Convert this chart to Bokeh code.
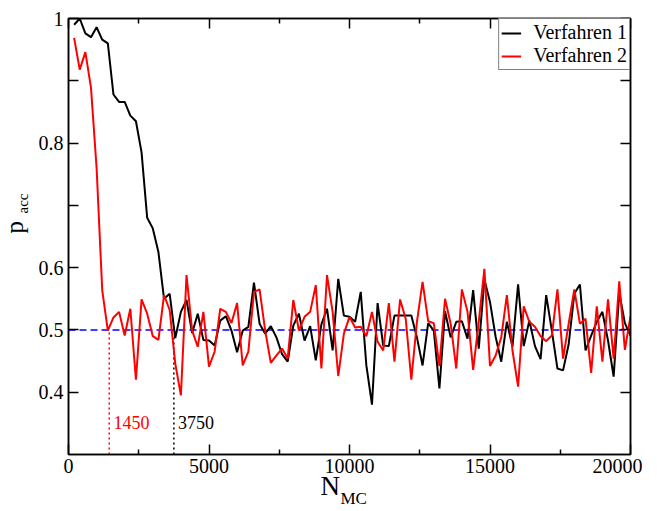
from bokeh.plotting import figure
from bokeh.models import Range1d, FixedTicker, LinearAxis, Label, Legend, LegendItem, Title
from bokeh.embed import file_html
from bokeh.resources import INLINE

# ---------------- data ----------------
n_mc = list(range(200, 20001, 200))

verfahren_1 = [
    0.99, 1.0, 0.976, 0.97, 0.986, 0.966, 0.96, 0.878, 0.866, 0.866,
    0.844, 0.835, 0.785, 0.68, 0.663, 0.625, 0.55, 0.558, 0.487, 0.529,
    0.548, 0.495, 0.526, 0.484, 0.483, 0.475, 0.515, 0.522, 0.499, 0.464,
    0.499, 0.505, 0.576, 0.51, 0.494, 0.506, 0.488, 0.461, 0.449, 0.507,
    0.526, 0.483, 0.506, 0.451, 0.509, 0.534, 0.467, 0.582, 0.523, 0.521,
    0.513, 0.561, 0.443, 0.38, 0.543, 0.475, 0.474, 0.523, 0.523, 0.523,
    0.523, 0.488, 0.443, 0.511, 0.499, 0.406, 0.530, 0.488, 0.513, 0.514,
    0.486, 0.564, 0.47, 0.581, 0.545, 0.489, 0.449, 0.513, 0.473, 0.573,
    0.474, 0.515, 0.474, 0.453, 0.556, 0.499, 0.438, 0.435, 0.477, 0.558,
    0.573, 0.467, 0.491, 0.513, 0.529, 0.483, 0.425, 0.56, 0.511, 0.491,
]

verfahren_2 = [
    0.969, 0.918, 0.946, 0.889, 0.76, 0.564, 0.499, 0.52, 0.529, 0.491,
    0.534, 0.42, 0.549, 0.526, 0.49, 0.484, 0.556, 0.532, 0.446, 0.395,
    0.588, 0.499, 0.473, 0.529, 0.441, 0.465, 0.534, 0.529, 0.511, 0.543,
    0.443, 0.465, 0.561, 0.565, 0.499, 0.447, 0.459, 0.47, 0.454, 0.548,
    0.499, 0.521, 0.529, 0.572, 0.438, 0.588, 0.529, 0.426, 0.494, 0.521,
    0.504, 0.505, 0.49, 0.529, 0.481, 0.467, 0.543, 0.449, 0.549, 0.518,
    0.42, 0.513, 0.577, 0.514, 0.511, 0.442, 0.55, 0.51, 0.438, 0.565,
    0.529, 0.436, 0.513, 0.598, 0.442, 0.459, 0.488, 0.556, 0.467, 0.409,
    0.538, 0.513, 0.505, 0.49, 0.482, 0.491, 0.565, 0.454, 0.51, 0.565,
    0.51, 0.518, 0.431, 0.538, 0.449, 0.549, 0.454, 0.578, 0.468, 0.522,
]

series_names = ["Verfahren 1", "Verfahren 2"]
series_colors = ["black", "red"]

target_rate = 0.5
thresholds = [1450, 3750]
threshold_tops = [0.5, 0.49]
threshold_colors = ["red", "black"]

x_ticks = [0, 5000, 10000, 15000, 20000]
x_minor_ticks = [2500, 7500, 12500, 17500]
y_ticks = [0.4, 0.5, 0.6, 0.8, 1.0]
y_minor_ticks = [0.7, 0.9]
y_tick_labels = {0.4: "0.4", 0.5: "0.5", 0.6: "0.6", 0.8: "0.8", 1.0: "1"}

X_MIN, X_MAX = 0, 20000
Y_MIN, Y_MAX = 0.3, 1.0

FONT = "Liberation Serif"

# ---------------- figure ----------------
p = figure(
    frame_width=562, frame_height=436,
    x_range=Range1d(X_MIN, X_MAX), y_range=Range1d(Y_MIN, Y_MAX),
    output_backend="svg", toolbar_location=None,
    min_border_left=68, min_border_right=12, min_border_top=18, min_border_bottom=55,
    background_fill_color="white", border_fill_color="white",
)
p.xgrid.visible = False
p.ygrid.visible = False
p.outline_line_color = "black"
p.outline_line_width = 1.5

xt = FixedTicker(ticks=x_ticks, minor_ticks=x_minor_ticks)
yt = FixedTicker(ticks=y_ticks, minor_ticks=y_minor_ticks)

def style_axis(ax, ticker, show_labels, minor_len):
    ax.ticker = ticker
    ax.major_tick_in = 10
    ax.major_tick_out = 0
    ax.minor_tick_in = minor_len
    ax.minor_tick_out = 0
    ax.major_tick_line_color = "black"
    ax.minor_tick_line_color = "black"
    ax.major_tick_line_width = 1.5
    ax.minor_tick_line_width = 1.5
    ax.axis_line_color = "black"
    ax.axis_line_width = 1.5
    ax.major_label_text_font = FONT
    if show_labels:
        ax.major_label_text_font_size = "20px"
        ax.major_label_text_color = "black"
    else:
        ax.major_label_text_font_size = "1px"
        ax.major_label_text_color = None
        ax.major_label_standoff = 0

style_axis(p.xaxis[0], xt, True, 5)
p.xaxis[0].major_label_standoff = 4
style_axis(p.yaxis[0], yt, True, 10)
p.yaxis[0].major_label_standoff = 5
p.yaxis[0].major_label_overrides = y_tick_labels

top_axis = LinearAxis()
style_axis(top_axis, xt, False, 5)
p.add_layout(top_axis, "above")
right_axis = LinearAxis()
style_axis(right_axis, yt, False, 10)
p.add_layout(right_axis, "right")

# reference line at target rate
p.line([X_MIN, X_MAX], [target_rate, target_rate], line_color="#0000ff",
       line_width=1.5, line_dash="7 4")

# threshold markers
for xv, top, col in zip(thresholds, threshold_tops, threshold_colors):
    p.line([xv, xv], [Y_MIN, top], line_color=col, line_width=1.5, line_dash="2 3")
    p.add_layout(Label(x=xv + 150, y=0.352, text=str(xv), text_color=col,
                       text_font=FONT, text_font_size="18px",
                       text_baseline="alphabetic", text_align="left"))

# series
items = []
for name, ys, col in zip(series_names, [verfahren_1, verfahren_2], series_colors):
    r = p.line(n_mc, ys, line_color=col, line_width=2)
    items.append(LegendItem(label=name, renderers=[r]))

legend = Legend(items=items, location="top_right",
                label_text_font=FONT, label_text_font_size="20px",
                label_text_color="black",
                border_line_color="black", border_line_width=1,
                background_fill_alpha=1.0, margin=0, padding=2, spacing=0,
                glyph_width=20, glyph_height=18, label_height=18,
                label_standoff=12, label_text_line_height=1.0)
p.add_layout(legend)

# axis titles (with subscripts) as side-panel titles
p.add_layout(Title(text="N", align="left", offset=252, vertical_align="top",
                   standoff=-10, text_font=FONT, text_font_size="27px",
                   text_font_style="normal", text_color="black"), "below")
p.add_layout(Title(text="MC", align="left", offset=272, vertical_align="top",
                   standoff=-18, text_font=FONT, text_font_size="17px",
                   text_font_style="normal", text_color="black"), "below")
p.add_layout(Title(text="acc", align="left", offset=241, vertical_align="bottom",
                   standoff=10, text_font=FONT, text_font_size="15px",
                   text_font_style="normal", text_color="black"), "left")
p.add_layout(Title(text="p", align="left", offset=221, vertical_align="bottom",
                   standoff=-40, text_font=FONT, text_font_size="25px",
                   text_font_style="normal", text_color="black"), "left")

open("out.html", "w").write(file_html(p, INLINE))
